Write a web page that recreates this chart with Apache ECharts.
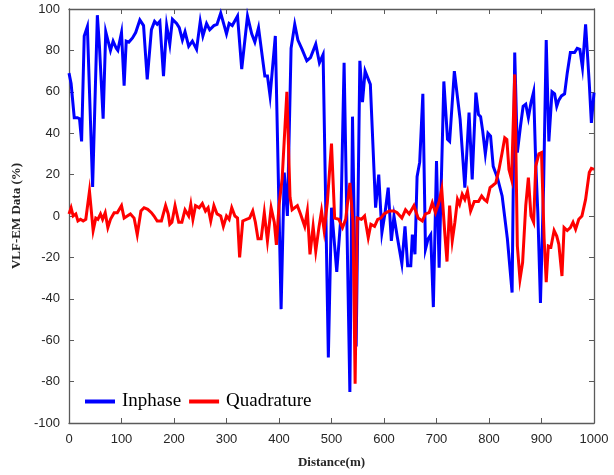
<!DOCTYPE html>
<html>
<head>
<meta charset="utf-8">
<script src="https://cdn.jsdelivr.net/npm/echarts@6/dist/echarts.min.js"></script>
<style>html,body{margin:0;padding:0;background:#fff}#c{width:614px;height:475px}</style>
</head>
<body>
<div id="c"></div>
<script>
const inphaseX = [0,4,10,16,20,24,29,35,45,54,58,65,70,74,79,84,90,93,100,105,109,114,121,127,135,142,149,157,163,168,173,180,186,192,197,205,210,216,221,228,235,243,250,255,262,268,276,282,289,295,300,305,311,321,329,340,348,354,361,373,378,383,393,404,410,416,423,430,436,444,453,460,470,477,484,494,500,510,518,524,535,540,547,554,559,564,574,584,590,596,602,608,614,619,625,634,640,645,651,654,659,663,668,674,679,684,689,694,700,705,714,721,725,734,745,754,762,768,775,780,784,788,793,798,803,808,816,825,835,844,849,854,860,865,870,875,880,885,889,893,898,904,909,914,920,925,929,933,938,944,949,955,963,968,973,978,984,991,995,1000];
const inphaseY = [69,64,47.5,47.5,47,36,87,91.5,14,97,82,47,89,85,80,84.5,81,80,88.6,63,84.5,84,86,88.6,94.7,92,66,90,94,92.6,94,67.6,92,83,95,93,91,85,89,82,84.5,80.5,94,87,93,90,92,92.6,98,92.6,88,93,92,96.6,71,96.6,88,84,91,67.6,67.6,58,87,-45,21,0,81,92.6,85,80.5,75,76.5,83,74,78,-68.4,4,-27,0,74,-85,48,-63,75,55,70,63.6,4,20,-8,1.6,13.7,-12,0,-9.7,-23,-5,-24,-24,-9,-18.5,19,26,59,-16,-11,-9,-44,26.6,-25,65,37,36,70,46.7,13.7,50,17.7,59.6,49,48,41,30,40,38.6,24,18.5,9.7,-11,-37,79,30.6,43.5,53,54,47.5,54.8,60,25.8,1.6,-42,14.5,85,36,60,59,53,56,58,59,69,79,79,81,80.5,71.7,92.6,64,45,59.6];
const quadX = [0,4,8,13,17,22,27,32,39,46,51,55,60,64,69,74,79,86,92,100,105,111,117,124,130,137,143,150,157,162,168,176,184,189,192,196,202,209,215,221,228,232,236,241,248,254,260,265,270,276,282,289,294,300,305,310,316,321,325,331,338,344,350,355,360,366,372,378,385,391,395,400,406,415,421,425,435,441,449,454,459,465,470,476,481,486,492,500,506,514,521,527,535,541,545,549,557,563,570,575,582,588,594,600,610,619,625,634,641,648,657,665,673,679,686,692,698,705,710,716,720,725,730,735,740,744,749,754,759,765,772,780,786,791,796,802,806,813,819,825,830,834,838,843,849,854,859,864,870,875,880,885,889,895,900,905,909,913,918,924,929,933,939,943,949,955,960,965,971,977,984,991,995,1000];
const quadY = [1,4,0,1,-2.4,-1.6,-2.4,-1.6,12,-7,-1,-1.6,1,-1.6,1.6,-5.6,-1.6,1.6,1.6,5,-1,0,1,-1,-9,2.4,4,3.2,1.6,0,-2.4,-2.4,5,1,-4,-3,5,-3,-3,3,0,5.6,-1.6,5,4,6,2.4,4,-2.4,5,1,0,-5,0,-1.6,4,0,-1,-20,-2.4,-1.6,-1,2.4,-3,-11,-11,1.6,-12,4,-3,-14,5,18,60,9,3,5,1,-5,2.4,-18.5,-5,-17,-5.6,2.4,-7,6.4,35,-1,-1.6,-5.6,-1.6,16,-3,-81,-1,-1.6,0,-10.5,-4,-5,-1.6,-1,1,2.4,2.4,1.6,-1,3,1,5,-1,-2.4,1,1.6,6.4,1.6,7,13,-9,-22,5,-12,-3,8,5.6,10.5,8,12,2.4,7,7,9.7,8,7,13.7,14.5,16,22.5,30.6,37.8,37,22.5,17.7,68.4,-14.5,-30.6,-22.5,5,18.5,0,-3,24,30,30.6,-11,-32,-14.5,-15,-7,-9.7,-13.7,-29,-5.6,-7,-5.6,-3,-6.4,-1.6,0,8,21,23,22.5];
const xTicks = {min: 0, max: 1000, step: 100};
const yTicks = {min: -100, max: 100, step: 20};
const seriesNames = ['Inphase', 'Quadrature'];

const zip = (xs, ys) => xs.map((x, i) => [x, ys[i]]);
const axisColor = '#5a5a5a';
const labelStyle = {fontFamily: 'Liberation Sans', fontSize: 13, color: '#262626', formatter: v => String(v)};
const chart = echarts.init(document.getElementById('c'), null, {renderer: 'canvas'});
chart.setOption({
  animation: false,
  backgroundColor: '#fff',
  grid: {left: 69, right: 20, top: 9, bottom: 52, containLabel: false},
  legend: {
    left: 80, top: 387, orient: 'horizontal',
    icon: 'rect', itemWidth: 30, itemHeight: 4, itemGap: 8,
    textStyle: {fontFamily: 'Liberation Serif', fontSize: 19, color: '#000', padding: [0,0,0,2]},
    data: seriesNames
  },
  xAxis: [{
    type: 'value', min: xTicks.min, max: xTicks.max, interval: xTicks.step,
    name: 'Distance(m)', nameLocation: 'middle', nameGap: 33,
    nameTextStyle: {fontFamily: 'Liberation Serif', fontWeight: 'bold', fontSize: 13, color: '#262626'},
    axisLine: {onZero: false, lineStyle: {color: axisColor, width: 1.3}},
    axisTick: {inside: true, length: 5, lineStyle: {color: axisColor}},
    axisLabel: Object.assign({margin: 10}, labelStyle),
    splitLine: {show: false}
  }, {
    type: 'value', position: 'top', min: xTicks.min, max: xTicks.max, interval: xTicks.step,
    axisLine: {show: true, onZero: false, lineStyle: {color: axisColor, width: 1.3}},
    axisTick: {inside: true, length: 5, lineStyle: {color: axisColor}},
    axisLabel: {show: false}, splitLine: {show: false}
  }],
  yAxis: [{
    type: 'value', min: yTicks.min, max: yTicks.max, interval: yTicks.step,
    name: 'VLF-EM Data (%)', nameLocation: 'middle', nameGap: 44,
    nameTextStyle: {fontFamily: 'Liberation Serif', fontWeight: 'bold', fontSize: 13, color: '#262626'},
    axisLine: {show: true, onZero: false, lineStyle: {color: axisColor, width: 1.3}},
    axisTick: {show: true, inside: true, length: 5, lineStyle: {color: axisColor}},
    axisLabel: Object.assign({margin: 9}, labelStyle),
    splitLine: {show: false}
  }, {
    type: 'value', position: 'right', min: yTicks.min, max: yTicks.max, interval: yTicks.step,
    axisLine: {show: true, onZero: false, lineStyle: {color: axisColor, width: 1.3}},
    axisTick: {show: true, inside: true, length: 5, lineStyle: {color: axisColor}},
    axisLabel: {show: false}, splitLine: {show: false}
  }],
  series: [{
    name: seriesNames[0], type: 'line', data: zip(inphaseX, inphaseY),
    showSymbol: false, symbol: 'none', color: '#0000ff',
    lineStyle: {width: 3, color: '#0000ff', join: 'miter'}, z: 2
  }, {
    name: seriesNames[1], type: 'line', data: zip(quadX, quadY),
    showSymbol: false, symbol: 'none', color: '#ff0000',
    lineStyle: {width: 3, color: '#ff0000', join: 'miter'}, z: 3
  }]
});
</script>
</body>
</html>
